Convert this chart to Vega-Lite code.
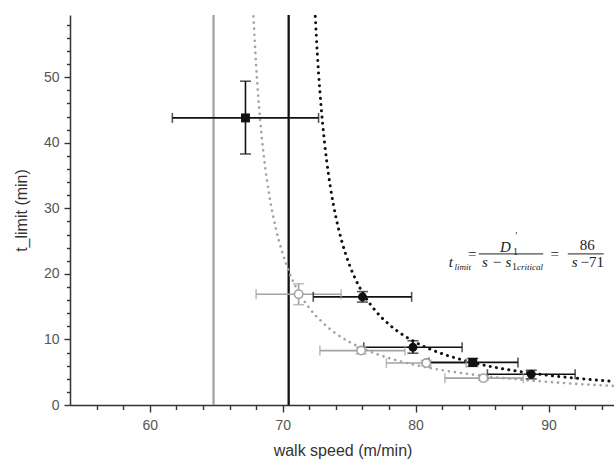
{
  "$schema": "https://vega.github.io/schema/vega-lite/v6.json",
  "width": 545,
  "height": 390,
  "autosize": {"type": "none"},
  "padding": {"left": 70, "top": 15, "right": 0, "bottom": 64},
  "background": "white",
  "config": {
    "view": {"stroke": null},
    "axis": {
      "domainColor": "#333333",
      "domainWidth": 1.5,
      "tickColor": "#333333",
      "tickWidth": 1.4,
      "grid": false,
      "labelFont": "Liberation Sans",
      "labelFontSize": 14,
      "labelColor": "#555555",
      "titleFont": "Liberation Sans",
      "titleFontSize": 16,
      "titleFontWeight": "normal",
      "titleColor": "#333333"
    }
  },
  "datasets": {
    "points": [
      {"series": "black", "marker": "square", "s": 67.2, "t": 43.8, "s_lo": 61.7, "s_hi": 72.7, "t_lo": 38.3, "t_hi": 49.4},
      {"series": "black", "marker": "circle", "s": 76.0, "t": 16.5, "s_lo": 72.3, "s_hi": 79.7, "t_lo": 15.7, "t_hi": 17.3},
      {"series": "black", "marker": "circle", "s": 79.8, "t": 8.8, "s_lo": 76.1, "s_hi": 83.5, "t_lo": 7.9, "t_hi": 9.8},
      {"series": "black", "marker": "square", "s": 84.3, "t": 6.5, "s_lo": 81.0, "s_hi": 87.7, "t_lo": 5.9, "t_hi": 7.1},
      {"series": "black", "marker": "circle", "s": 88.7, "t": 4.7, "s_lo": 85.4, "s_hi": 92.0, "t_lo": 4.0, "t_hi": 5.3},
      {"series": "gray", "marker": "circle", "s": 71.2, "t": 16.9, "s_lo": 68.0, "s_hi": 74.4, "t_lo": 15.3, "t_hi": 18.5},
      {"series": "gray", "marker": "circle", "s": 75.9, "t": 8.3, "s_lo": 72.8, "s_hi": 79.2, "t_lo": 7.8, "t_hi": 8.8},
      {"series": "gray", "marker": "circle", "s": 80.8, "t": 6.4, "s_lo": 77.8, "s_hi": 83.8, "t_lo": 6.0, "t_hi": 6.8},
      {"series": "gray", "marker": "circle", "s": 85.1, "t": 4.1, "s_lo": 82.2, "s_hi": 88.1, "t_lo": 3.8, "t_hi": 4.5}
    ],
    "curves": [
      {"series": "black", "s": 72.45, "t": 59.3}, {"series": "black", "s": 72.6, "t": 53.75}, {"series": "black", "s": 72.8, "t": 47.8},
      {"series": "black", "s": 73.0, "t": 43.0}, {"series": "black", "s": 73.3, "t": 37.4}, {"series": "black", "s": 73.6, "t": 33.1},
      {"series": "black", "s": 74.0, "t": 28.7}, {"series": "black", "s": 74.5, "t": 24.6}, {"series": "black", "s": 75.0, "t": 21.5},
      {"series": "black", "s": 75.5, "t": 19.1}, {"series": "black", "s": 76.0, "t": 17.2}, {"series": "black", "s": 77.0, "t": 14.33},
      {"series": "black", "s": 78.0, "t": 12.29}, {"series": "black", "s": 79.0, "t": 10.75}, {"series": "black", "s": 80.0, "t": 9.56},
      {"series": "black", "s": 81.0, "t": 8.6}, {"series": "black", "s": 82.0, "t": 7.82}, {"series": "black", "s": 84.0, "t": 6.62},
      {"series": "black", "s": 86.0, "t": 5.73}, {"series": "black", "s": 88.0, "t": 5.06}, {"series": "black", "s": 90.0, "t": 4.53},
      {"series": "black", "s": 92.0, "t": 4.10}, {"series": "black", "s": 95.0, "t": 3.58},
      {"series": "gray", "s": 67.8, "t": 59.3}, {"series": "gray", "s": 68.0, "t": 51.9}, {"series": "gray", "s": 68.3, "t": 43.7},
      {"series": "gray", "s": 68.6, "t": 37.7}, {"series": "gray", "s": 69.0, "t": 31.9}, {"series": "gray", "s": 69.5, "t": 26.8},
      {"series": "gray", "s": 70.0, "t": 23.1}, {"series": "gray", "s": 70.5, "t": 20.2}, {"series": "gray", "s": 71.0, "t": 18.0},
      {"series": "gray", "s": 72.0, "t": 14.8}, {"series": "gray", "s": 73.0, "t": 12.6}, {"series": "gray", "s": 74.0, "t": 10.9},
      {"series": "gray", "s": 75.0, "t": 9.65}, {"series": "gray", "s": 76.0, "t": 8.65}, {"series": "gray", "s": 77.0, "t": 7.83},
      {"series": "gray", "s": 78.0, "t": 7.16}, {"series": "gray", "s": 80.0, "t": 6.10}, {"series": "gray", "s": 82.0, "t": 5.32},
      {"series": "gray", "s": 84.0, "t": 4.72}, {"series": "gray", "s": 86.0, "t": 4.23}, {"series": "gray", "s": 88.0, "t": 3.84},
      {"series": "gray", "s": 90.0, "t": 3.52}, {"series": "gray", "s": 92.0, "t": 3.24}, {"series": "gray", "s": 95.0, "t": 2.90}
    ],
    "vlines": [
      {"series": "gray", "s": 64.8},
      {"series": "black", "s": 70.45}
    ],
    "eq": [
      {"part": "main_it", "s": 82.5, "t": 21.07, "text": "t"},
      {"part": "main_it", "s": 86.35, "t": 23.36, "text": "D"},
      {"part": "main_it", "s": 85.0, "t": 21.07, "text": "s − s"},
      {"part": "main_it", "s": 91.75, "t": 21.07, "text": "s"},
      {"part": "main_rm", "s": 83.95, "t": 22.29, "text": "="},
      {"part": "main_rm", "s": 90.15, "t": 22.29, "text": "="},
      {"part": "main_rm", "s": 92.35, "t": 23.66, "text": "86"},
      {"part": "main_rm", "s": 92.4, "t": 21.07, "text": "−71"},
      {"part": "sub_it", "s": 82.93, "t": 20.6, "text": "limit"},
      {"part": "sub_it", "s": 87.62, "t": 20.6, "text": "critical"},
      {"part": "sub_rm", "s": 87.32, "t": 22.85, "text": "1"},
      {"part": "sub_rm", "s": 87.25, "t": 20.6, "text": "1"},
      {"part": "sub_rm", "s": 87.5, "t": 25.4, "text": "′"}
    ],
    "bars": [
      {"s": 84.75, "s2": 89.6, "t": 23.05},
      {"s": 91.45, "s2": 94.15, "t": 23.05}
    ]
  },
  "layer": [
    {
      "data": {"name": "vlines"},
      "mark": {"type": "rule", "strokeWidth": 2.3},
      "encoding": {
        "x": {
          "field": "s", "type": "quantitative",
          "scale": {"domain": [54, 95], "nice": false, "zero": false},
          "title": "walk speed (m/min)",
          "axis": {
            "values": [56, 58, 60, 62, 64, 66, 68, 70, 72, 74, 76, 78, 80, 82, 84, 86, 88, 90, 92, 94],
            "tickCount": 100,
            "format": "d",
            "labelExpr": "datum.value % 10 === 0 ? datum.label : ''",
            "labelOverlap": false,
            "tickSize": {"condition": {"test": "datum.value % 10 === 0", "value": 7}, "value": 4.5},
            "labelPadding": 6,
            "titlePadding": 10,
            "labelFlush": false
          }
        },
        "color": {"field": "series", "type": "nominal", "scale": {"domain": ["black", "gray"], "range": ["#111111", "#a3a3a3"]}, "legend": null}
      }
    },
    {
      "data": {"name": "curves"},
      "mark": {"type": "line", "interpolate": "monotone", "strokeCap": "round", "clip": true},
      "encoding": {
        "x": {"field": "s", "type": "quantitative", "title": "walk speed (m/min)"},
        "y": {
          "field": "t", "type": "quantitative",
          "scale": {"domain": [0, 59.5], "nice": false, "zero": true},
          "title": "t_limit (min)",
          "axis": {
            "values": [0, 2, 4, 6, 8, 10, 12, 14, 16, 18, 20, 22, 24, 26, 28, 30, 32, 34, 36, 38, 40, 42, 44, 46, 48, 50, 52, 54, 56, 58],
            "tickCount": 100,
            "format": "d",
            "labelExpr": "datum.value % 10 === 0 ? datum.label : ''",
            "labelOverlap": false,
            "tickSize": {"condition": {"test": "datum.value % 10 === 0", "value": 6}, "value": 3.5},
            "labelPadding": 5,
            "titlePadding": 14,
            "labelFlush": false
          }
        },
        "detail": {"field": "series", "type": "nominal"},
        "color": {"field": "series", "type": "nominal", "scale": {"domain": ["black", "gray"], "range": ["#111111", "#a3a3a3"]}, "legend": null},
        "strokeWidth": {"field": "series", "type": "nominal", "scale": {"domain": ["black", "gray"], "range": [3, 2.6]}, "legend": null},
        "strokeDash": {"field": "series", "type": "nominal", "scale": {"domain": ["black", "gray"], "range": [[0.1, 6.2], [0.1, 6]]}, "legend": null}
      }
    },
    {
      "data": {"name": "points"},
      "mark": {"type": "rule", "strokeWidth": 1.6},
      "encoding": {
        "x": {"field": "s_lo", "type": "quantitative", "title": "walk speed (m/min)"},
        "x2": {"field": "s_hi"},
        "y": {"field": "t", "type": "quantitative", "title": "t_limit (min)"},
        "color": {"field": "series", "type": "nominal", "scale": {"domain": ["black", "gray"], "range": ["#111111", "#a3a3a3"]}, "legend": null},
        "order": {"field": "series", "sort": "descending"}
      }
    },
    {
      "data": {"name": "points"},
      "mark": {"type": "rule", "strokeWidth": 1.6},
      "encoding": {
        "x": {"field": "s", "type": "quantitative", "title": "walk speed (m/min)"},
        "y": {"field": "t_lo", "type": "quantitative", "title": "t_limit (min)"},
        "y2": {"field": "t_hi"},
        "color": {"field": "series", "type": "nominal", "scale": {"domain": ["black", "gray"], "range": ["#111111", "#a3a3a3"]}, "legend": null}
      }
    },
    {
      "data": {"name": "points"},
      "transform": [{"fold": ["s_lo", "s_hi"], "as": ["end", "cap"]}],
      "mark": {"type": "tick", "orient": "vertical", "size": 10, "thickness": 1.6},
      "encoding": {
        "x": {"field": "cap", "type": "quantitative", "title": "walk speed (m/min)"},
        "y": {"field": "t", "type": "quantitative", "title": "t_limit (min)"},
        "color": {"field": "series", "type": "nominal", "scale": {"domain": ["black", "gray"], "range": ["#111111", "#a3a3a3"]}, "legend": null}
      }
    },
    {
      "data": {"name": "points"},
      "transform": [{"fold": ["t_lo", "t_hi"], "as": ["end", "cap"]}],
      "mark": {"type": "tick", "orient": "horizontal", "size": 11, "thickness": 1.6},
      "encoding": {
        "x": {"field": "s", "type": "quantitative", "title": "walk speed (m/min)"},
        "y": {"field": "cap", "type": "quantitative", "title": "t_limit (min)"},
        "color": {"field": "series", "type": "nominal", "scale": {"domain": ["black", "gray"], "range": ["#111111", "#a3a3a3"]}, "legend": null}
      }
    },
    {
      "data": {"name": "points"},
      "transform": [{"filter": "datum.series === 'gray'"}],
      "mark": {"type": "point", "shape": "circle", "filled": false, "fill": "white", "fillOpacity": 1, "stroke": "#a3a3a3", "strokeWidth": 1.6, "size": 70, "opacity": 1},
      "encoding": {
        "x": {"field": "s", "type": "quantitative", "title": "walk speed (m/min)"},
        "y": {"field": "t", "type": "quantitative", "title": "t_limit (min)"}
      }
    },
    {
      "data": {"name": "points"},
      "transform": [{"filter": "datum.series === 'black'"}],
      "mark": {"type": "point", "filled": true, "color": "#111111", "opacity": 1, "size": 80},
      "encoding": {
        "x": {"field": "s", "type": "quantitative", "title": "walk speed (m/min)"},
        "y": {"field": "t", "type": "quantitative", "title": "t_limit (min)"},
        "shape": {"field": "marker", "type": "nominal", "scale": {"domain": ["circle", "square"], "range": ["circle", "square"]}, "legend": null}
      }
    },
    {
      "data": {"name": "bars"},
      "mark": {"type": "rule", "color": "#222222", "strokeWidth": 1},
      "encoding": {
        "x": {"field": "s", "type": "quantitative", "title": "walk speed (m/min)"},
        "x2": {"field": "s2"},
        "y": {"field": "t", "type": "quantitative", "title": "t_limit (min)"}
      }
    },
    {
      "data": {"name": "eq"},
      "transform": [{"filter": "datum.part === 'main_it'"}],
      "mark": {"type": "text", "font": "Liberation Serif", "fontStyle": "italic", "fontSize": 15, "align": "left", "baseline": "alphabetic", "color": "#222222"},
      "encoding": {
        "x": {"field": "s", "type": "quantitative", "title": "walk speed (m/min)"},
        "y": {"field": "t", "type": "quantitative", "title": "t_limit (min)"},
        "text": {"field": "text", "type": "nominal"}
      }
    },
    {
      "data": {"name": "eq"},
      "transform": [{"filter": "datum.part === 'main_rm'"}],
      "mark": {"type": "text", "font": "Liberation Serif", "fontSize": 15, "align": "left", "baseline": "alphabetic", "color": "#222222"},
      "encoding": {
        "x": {"field": "s", "type": "quantitative", "title": "walk speed (m/min)"},
        "y": {"field": "t", "type": "quantitative", "title": "t_limit (min)"},
        "text": {"field": "text", "type": "nominal"}
      }
    },
    {
      "data": {"name": "eq"},
      "transform": [{"filter": "datum.part === 'sub_it'"}],
      "mark": {"type": "text", "font": "Liberation Serif", "fontStyle": "italic", "fontSize": 9, "align": "left", "baseline": "alphabetic", "color": "#222222"},
      "encoding": {
        "x": {"field": "s", "type": "quantitative", "title": "walk speed (m/min)"},
        "y": {"field": "t", "type": "quantitative", "title": "t_limit (min)"},
        "text": {"field": "text", "type": "nominal"}
      }
    },
    {
      "data": {"name": "eq"},
      "transform": [{"filter": "datum.part === 'sub_rm'"}],
      "mark": {"type": "text", "font": "Liberation Serif", "fontSize": 10, "align": "left", "baseline": "alphabetic", "color": "#222222"},
      "encoding": {
        "x": {"field": "s", "type": "quantitative", "title": "walk speed (m/min)"},
        "y": {"field": "t", "type": "quantitative", "title": "t_limit (min)"},
        "text": {"field": "text", "type": "nominal"}
      }
    }
  ]
}
